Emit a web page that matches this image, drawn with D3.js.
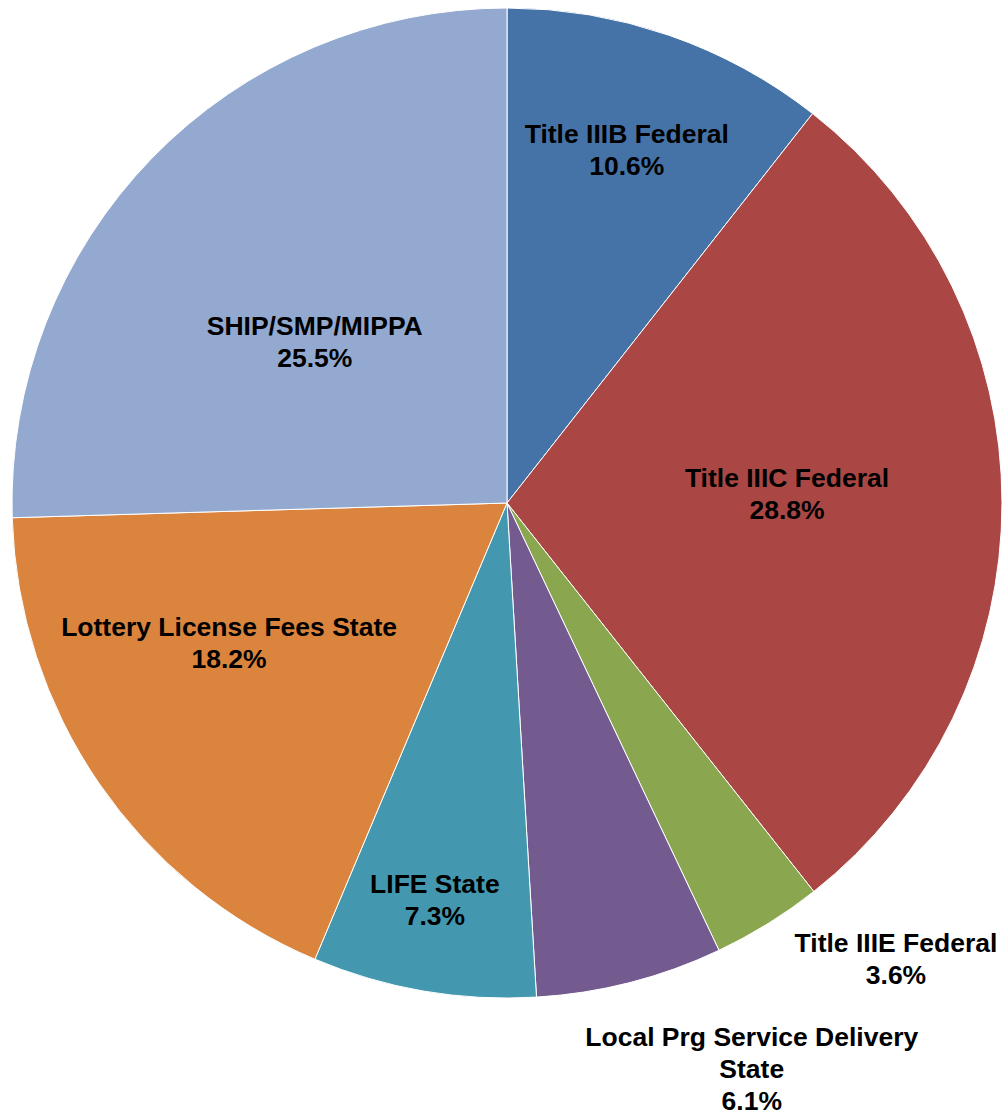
<!DOCTYPE html>
<html>
<head>
<meta charset="utf-8">
<script src="https://cdn.jsdelivr.net/npm/d3@7"></script>
<style>
  body { margin: 0; background: #fff; }
  text { font-family: "Liberation Sans", Arial, sans-serif; font-weight: bold; font-size: 26.5px; fill: #000; }
</style>
</head>
<body>
<div id="chart"></div>
<script>
// data
var labels = [["Title IIIB Federal"], ["Title IIIC Federal"], ["Title IIIE Federal"],
              ["Local Prg Service Delivery", "State"], ["LIFE State"],
              ["Lottery License Fees State"], ["SHIP/SMP/MIPPA"]];
var values = [10.6, 28.8, 3.6, 6.1, 7.3, 18.2, 25.5];
var colors = ["#4673A7", "#AA4744", "#8AA64E", "#735A8F", "#4398AF", "#DB843D", "#93A9CF"];

// label placement relative to the pie centre (angle in degrees, distance as fraction of radius)
var labelPolar = [[18.7, 0.755], [88, 0.566], [139.5, 1.21], [156.6, 1.245], [190.3, 0.815], [243.4, 0.628], [310, 0.507]];

var width = 1002, height = 1116;
var cx = 507, cy = 503, radius = 495;

var svg = d3.select("#chart")
  .append("svg")
    .attr("width", width)
    .attr("height", height)
  .append("g")
    .attr("transform", "translate(" + cx + "," + cy + ")");

var pie = d3.pie().sort(null).value(function(d) { return d; });
var arc = d3.arc().innerRadius(0).outerRadius(radius);

var arcs = pie(values);

svg.selectAll("path")
  .data(arcs)
  .enter()
  .append("path")
    .attr("d", arc)
    .style("fill", function(d, i) { return colors[i]; })
    .style("stroke", "#fff")
    .style("stroke-width", 1);

// labels
var lineH = 32;
var g = svg.selectAll(".lbl")
  .data(arcs)
  .enter()
  .append("text")
    .attr("class", "lbl")
    .attr("text-anchor", "middle")
    .attr("transform", function(d, i) {
      var a = labelPolar[i][0] * Math.PI / 180, r = labelPolar[i][1] * radius;
      return "translate(" + (r * Math.sin(a)) + "," + (-r * Math.cos(a)) + ")";
    });

g.each(function(d, i) {
  var lines = labels[i].concat([values[i].toFixed(1) + "%"]);
  var t = d3.select(this);
  var y0 = -(lines.length - 1) * lineH / 2;
  lines.forEach(function(s, k) {
    t.append("tspan")
      .attr("x", 0)
      .attr("y", y0 + k * lineH)
      .attr("dy", "0.36em")
      .text(s);
  });
});
</script>
</body>
</html>
